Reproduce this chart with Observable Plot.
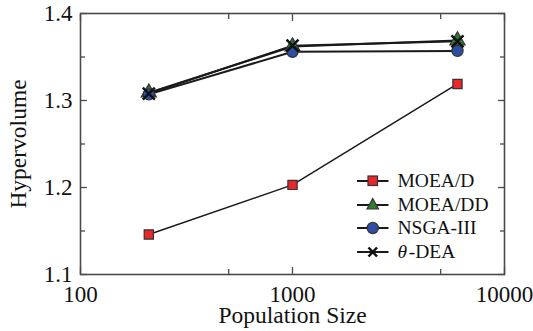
<!DOCTYPE html>
<html>
<head>
<meta charset="utf-8">
<script src="https://cdn.jsdelivr.net/npm/d3@7"></script>
<script src="https://cdn.jsdelivr.net/npm/@observablehq/plot@0.6"></script>
<style>
  html, body { margin: 0; padding: 0; background: #fff; }
  #wrap { position: relative; width: 533px; height: 331px; font-family: "Liberation Serif", "Times New Roman", serif; }
  #legend { position: absolute; left: 357px; top: 169px; font-size: 19.5px; color: #111; }
  #legend .row { display: flex; align-items: center; height: 23.7px; }
  #legend svg { display: block; margin-right: 9px; }
</style>
</head>
<body>
<div id="wrap"></div>
<script>
const popSizes = [210, 1000, 6000];
const seriesNames = ["MOEA/D", "MOEA/DD", "NSGA-III", "θ-DEA"];
const moead   = [1.146, 1.203, 1.319];
const moeadd  = [1.309, 1.362, 1.369];
const nsga3   = [1.307, 1.356, 1.357];
const thetaDEA = [1.308, 1.363, 1.368];
const xTicks = [100, 1000, 10000];
const xMinorTicks = [500, 5000];
const yTicks = [1.1, 1.2, 1.3, 1.4];
const yMinorTicks = [1.15, 1.25, 1.35];

const seriesValues = [moead, moeadd, nsga3, thetaDEA];
const symbols = ["square", "triangle", "circle", "times"];
const fills = ["#e8262b", "#2e7a34", "#2f4ea3", "#111"];

const rows = [];
seriesNames.forEach((name, i) => {
  popSizes.forEach((p, j) => rows.push({series: name, pop: p, hv: seriesValues[i][j], idx: i}));
});

const font = '"Liberation Serif", "Times New Roman", serif';
const frameColor = "#4a4a4a";
const tk = {text: null, label: null, stroke: frameColor, strokeWidth: 1.3};

const marks = [
  Plot.frame({stroke: frameColor, strokeWidth: 1.6}),
  // major & minor inward ticks
  Plot.axisX(xTicks, {anchor: "bottom", tickSize: -7, ...tk}),
  Plot.axisX(xTicks, {anchor: "top", tickSize: -7, ...tk}),
  Plot.axisX(xMinorTicks, {anchor: "bottom", tickSize: -5, ...tk}),
  Plot.axisX(xMinorTicks, {anchor: "top", tickSize: -5, ...tk}),
  Plot.axisY(yTicks, {anchor: "left", tickSize: -7, ...tk}),
  Plot.axisY(yTicks, {anchor: "right", tickSize: -7, ...tk}),
  Plot.axisY(yMinorTicks, {anchor: "left", tickSize: -5, ...tk}),
  Plot.axisY(yMinorTicks, {anchor: "right", tickSize: -5, ...tk}),
  // tick labels
  Plot.axisX(xTicks, {anchor: "bottom", tickSize: 0, tickPadding: 11, tickFormat: d => String(d), fontSize: 23, fill: "#111", label: null}),
  Plot.axisY(yTicks, {anchor: "left", tickSize: 0, tickPadding: 8, tickFormat: d3.format(".1f"), fontSize: 23, fill: "#111", label: null}),
  // axis titles
  Plot.text(["Population Size"], {frameAnchor: "bottom", textAnchor: "middle", lineAnchor: "bottom", dy: 48.5, fontSize: 23.5, fill: "#111"}),
  Plot.text(["Hypervolume"], {frameAnchor: "left", textAnchor: "middle", lineAnchor: "middle", dx: -62, rotate: -90, fontSize: 23.5, fill: "#111"}),
];

seriesNames.forEach((name, i) => {
  const data = rows.filter(r => r.series === name);
  marks.push(Plot.line(data, {x: "pop", y: "hv", stroke: "#1a1a1a", strokeWidth: i === 0 ? 1.5 : 2}));
});
seriesNames.forEach((name, i) => {
  const data = rows.filter(r => r.series === name);
  if (symbols[i] === "times") {
    marks.push(Plot.dot(data, {x: "pop", y: "hv", symbol: "times", r: 5.5, stroke: "#111", strokeWidth: 2.5}));
  } else {
    marks.push(Plot.dot(data, {x: "pop", y: "hv", symbol: symbols[i], r: symbols[i] === "square" ? 5.2 : 5.6, fill: fills[i], stroke: "#333", strokeWidth: 1.2}));
  }
});

const chart = Plot.plot({
  width: 533,
  height: 331,
  marginLeft: 80,
  marginRight: 29,
  marginTop: 13,
  marginBottom: 57,
  style: {fontFamily: font, background: "#fff"},
  x: {type: "log", domain: [100, 10000], axis: null},
  y: {domain: [1.1, 1.4], axis: null},
  marks
});

const wrap = document.getElementById("wrap");
wrap.appendChild(chart);

// legend
const legend = document.createElement("div");
legend.id = "legend";
const symPaths = {
  square: '<rect x="11" y="5" width="9.5" height="9.5" fill="#e8262b" stroke="#333" stroke-width="1.2"/>',
  triangle: '<path d="M15.75,3.5 L21.5,14 L10,14 Z" fill="#2e7a34" stroke="#333" stroke-width="1.2"/>',
  circle: '<circle cx="15.75" cy="10" r="5.6" fill="#2f4ea3" stroke="#333" stroke-width="1.2"/>',
  times: '<path d="M11.5,5.5 L20,14.5 M20,5.5 L11.5,14.5" stroke="#111" stroke-width="2.5"/>'
};
seriesNames.forEach((name, i) => {
  const row = document.createElement("div");
  row.className = "row";
  const label = name === "θ-DEA" ? '<i>θ</i>&#8202;-DEA' : name;
  row.innerHTML = `<svg width="31.5" height="20"><line x1="0" y1="10" x2="31.5" y2="10" stroke="#1a1a1a" stroke-width="2"/>${symPaths[symbols[i]]}</svg><span>${label}</span>`;
  legend.appendChild(row);
});
wrap.appendChild(legend);
</script>
</body>
</html>
